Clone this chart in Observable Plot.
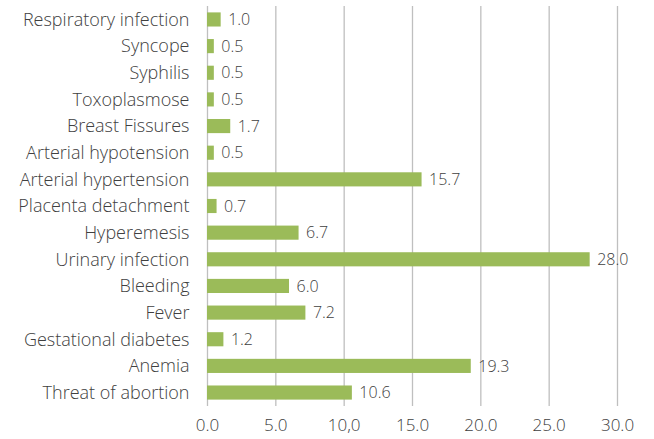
<!DOCTYPE html>
<html><head><meta charset="utf-8">
<script src="https://cdn.jsdelivr.net/npm/d3@7"></script>
<script src="https://cdn.jsdelivr.net/npm/@observablehq/plot@0.6"></script>
<style>body{margin:0;background:#fff}
svg text{font-family:'Open Sans',sans-serif;font-weight:300}
g[aria-label="y-axis tick label"] text{font-size:18px}
g[aria-label="x-axis tick label"] text{font-size:17px}
</style>
</head><body><div id="chart"></div>
<script>
const categories = ["Respiratory infection","Syncope","Syphilis","Toxoplasmose","Breast Fissures","Arterial hypotension","Arterial hypertension","Placenta detachment","Hyperemesis","Urinary infection","Bleeding","Fever","Gestational diabetes","Anemia","Threat of abortion"];
const values = [1.0,0.5,0.5,0.5,1.7,0.5,15.7,0.7,6.7,28.0,6.0,7.2,1.2,19.3,10.6];
const tickValues = [0,5,10,15,20,25,30];
const tickLabels = ["0.0","5.0","10,0","15.0","20.0","25.0","30.0"];
const data = categories.map((c,i)=>({c, v: values[i]}));
const chart = Plot.plot({
  width: 654, height: 439,
  marginLeft: 207, marginRight: 37, marginTop: 6, marginBottom: 33,
  style: {color: "#404040", background: "#fff", fontSize: "16px"},
  x: {domain: [0,30], ticks: tickValues, tickFormat: (d)=>tickLabels[tickValues.indexOf(d)], tickSize: 0, tickPadding: 12, label: null},
  y: {domain: categories, paddingInner: 0.47, paddingOuter: 0.24, round: false, tickSize: 0, tickPadding: 18, label: null},
  marks: [
    Plot.gridX(tickValues, {stroke: "#bfbfbf", strokeOpacity: 1, strokeWidth: 1.3}),
    Plot.ruleY([0], {frameAnchor: "bottom", stroke: "#bfbfbf", strokeWidth: 1.3}),
    Plot.barX(data, {x: "v", y: "c", fill: "#9BBB59"}),
    Plot.text(data, {x: "v", y: "c", text: d=>d.v.toFixed(1), textAnchor: "start", dx: 7, fill: "#404040", fontSize: 16})
  ]
});
document.getElementById("chart").append(chart);
</script></body></html>
